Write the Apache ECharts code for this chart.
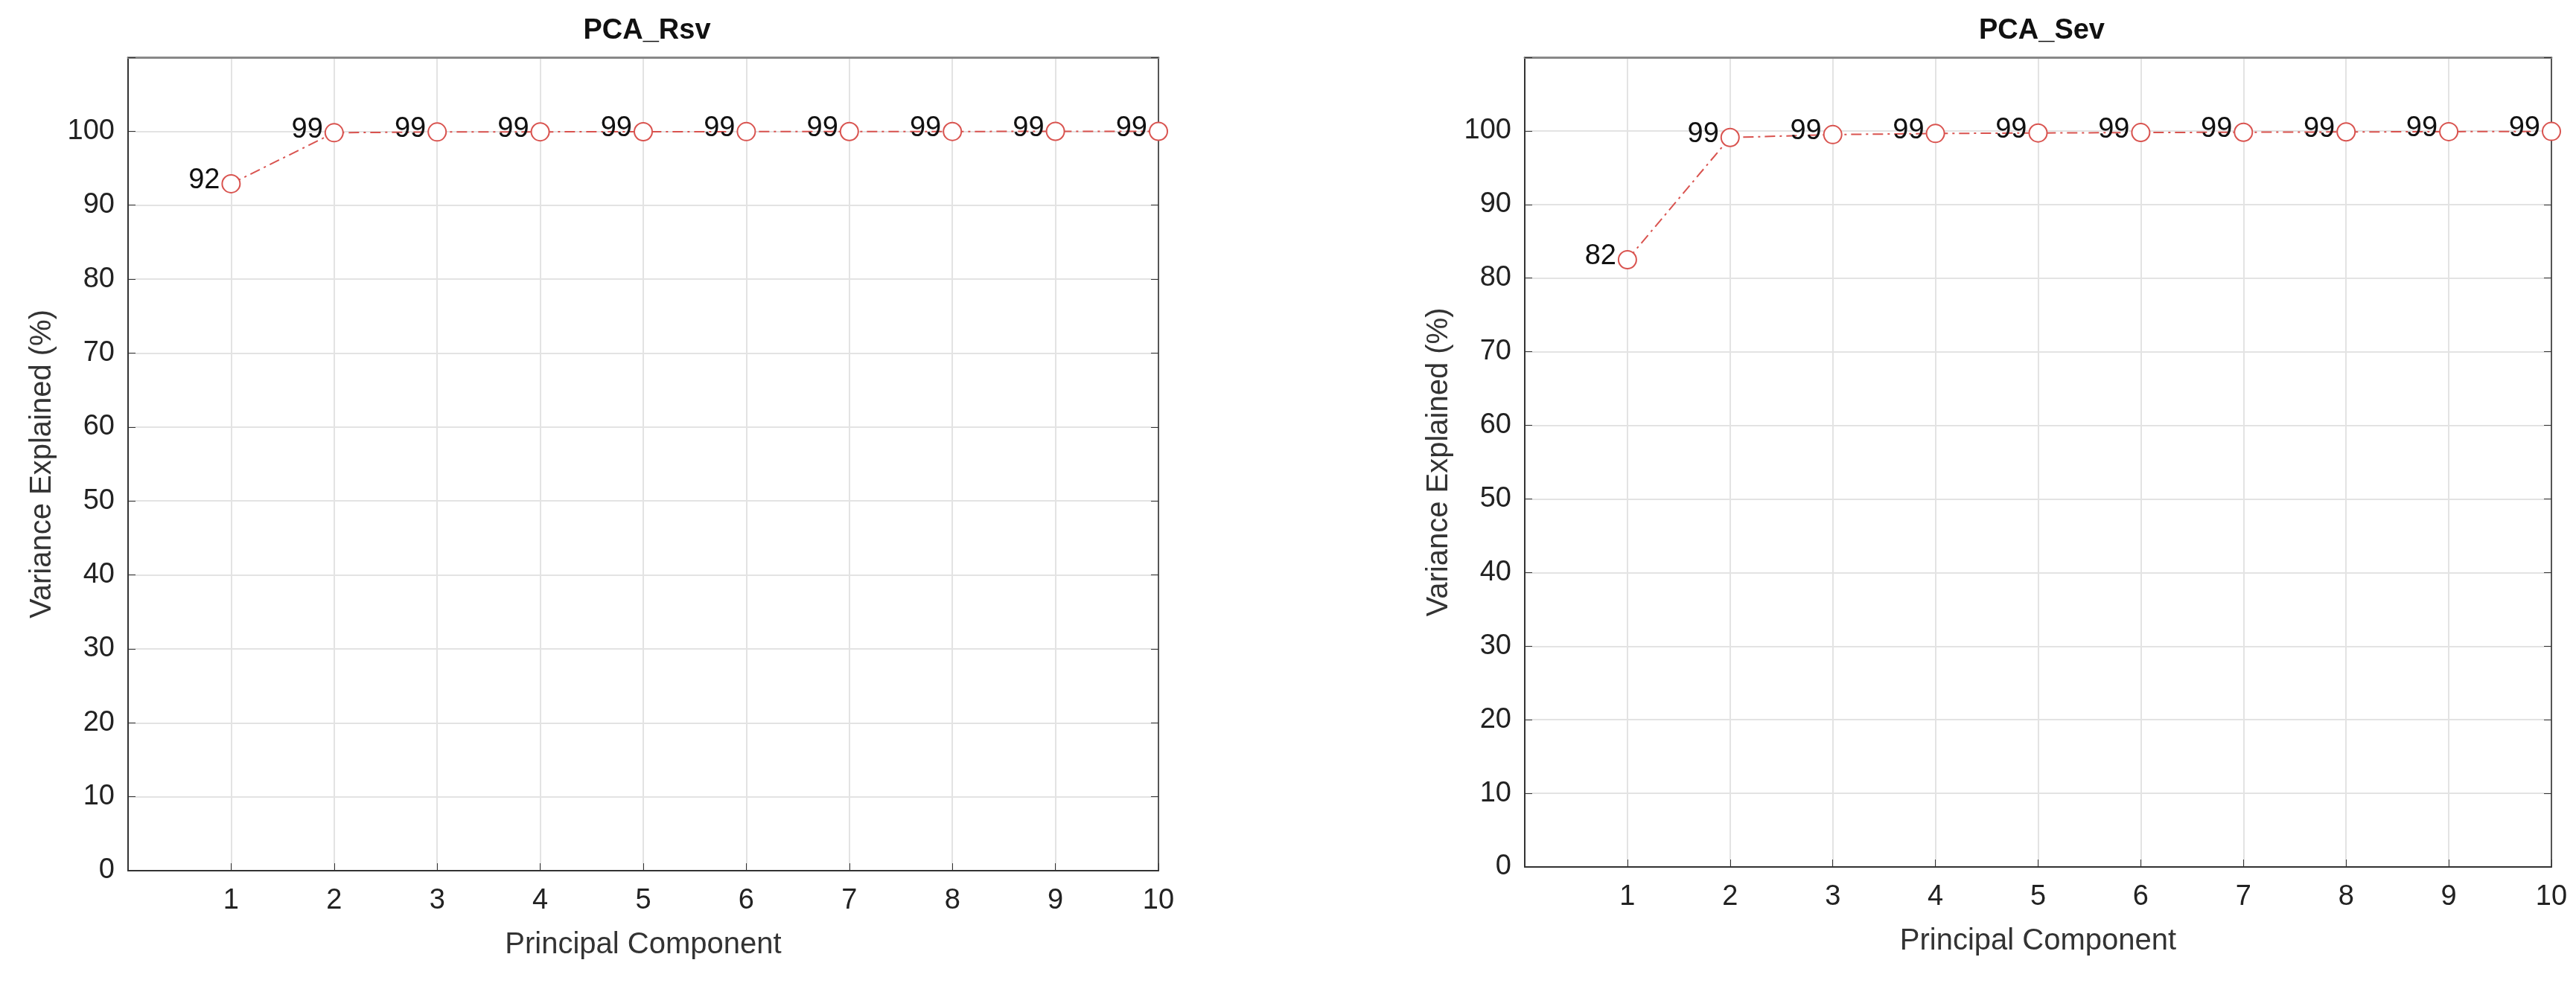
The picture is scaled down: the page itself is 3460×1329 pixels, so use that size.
<!DOCTYPE html><html><head><meta charset="utf-8">
<script src="https://cdn.jsdelivr.net/npm/echarts@6/dist/echarts.min.js"></script>
<style>html,body{margin:0;background:#fff}#c{width:3460px;height:1329px}</style></head><body><div id="c"></div>
<script>
const components=[1,2,3,4,5,6,7,8,9,10];
const rsvValues=[92.9,99.8,99.9,99.92,99.94,99.95,99.96,99.97,99.98,99.99];
const sevValues=[82.5,99.1,99.5,99.65,99.72,99.78,99.82,99.86,99.9,99.93];
const titles=['PCA_Rsv','PCA_Sev'];
const yTicks=[0,10,20,30,40,50,60,70,80,90,100];
const chart=echarts.init(document.getElementById('c'));
const grids=[{left:172,right:3460-1556,top:77,height:1093},{left:2048,right:3460-3427,top:77,height:1088}];
const F='Liberation Sans, Arial';
function xa(i){return {gridIndex:i,type:'value',min:0,max:10,interval:1,name:'Principal Component',nameLocation:'middle',nameGap:80,
 nameTextStyle:{fontSize:40,color:'#333',fontFamily:F},
 axisLine:{lineStyle:{color:'#333',width:2}},axisTick:{inside:true,length:10,lineStyle:{color:'#333'}},
 axisLabel:{fontSize:38,color:'#222',fontFamily:F,margin:22,formatter:v=>v===0?'':String(v)},
 splitLine:{show:true,lineStyle:{color:'#e3e3e3',width:2}}};}
function xTop(i){return {gridIndex:i,type:'value',min:0,max:10,interval:1,position:'top',
 axisLine:{show:true,onZero:false,lineStyle:{color:'#888',width:3}},axisTick:{show:false},axisLabel:{show:false},splitLine:{show:false}};}
function ya(i){return {gridIndex:i,type:'value',min:0,max:110,interval:10,name:'Variance Explained (%)',nameLocation:'middle',nameGap:95,
 nameTextStyle:{fontSize:40,color:'#333',fontFamily:F},
 axisLine:{lineStyle:{color:'#333',width:2}},axisTick:{inside:true,length:10,lineStyle:{color:'#333'}},
 axisLabel:{fontSize:38,color:'#222',fontFamily:F,margin:18,formatter:v=>yTicks.includes(v)?String(v):''},
 splitLine:{show:true,lineStyle:{color:'#e3e3e3',width:2}}};}
function yRight(i){return {gridIndex:i,type:'value',min:0,max:110,interval:10,position:'right',
 axisLine:{show:true,onZero:false,lineStyle:{color:'#555',width:2}},axisTick:{show:true,inside:true,length:10,lineStyle:{color:'#333'}},axisLabel:{show:false},splitLine:{show:false}};}
function ser(i,vals){return {type:'line',xAxisIndex:i,yAxisIndex:i,data:components.map((c,k)=>[c,vals[k]]),
 symbol:'circle',symbolSize:24,itemStyle:{color:'#fff',borderColor:'#d9534f',borderWidth:2},
 lineStyle:{color:'#d9534f',width:2,type:[14,6,3,6]},
 label:{show:true,position:'left',distance:2,offset:[0,-4],fontSize:38,color:'#111',fontFamily:F,formatter:p=>String(Math.floor(p.value[1]))}};}
chart.setOption({animation:false,
 title:titles.map((t,i)=>({text:t,left:i===0?(172+1556)/2:(2048+3427)/2,textAlign:'center',top:18,textStyle:{fontSize:38,fontWeight:'bold',color:'#111',fontFamily:F}})),
 grid:grids,
 xAxis:[xa(0),xa(1),xTop(0),xTop(1)],yAxis:[ya(0),ya(1),yRight(0),yRight(1)],
 series:[ser(0,rsvValues),ser(1,sevValues)]});
</script></body></html>
